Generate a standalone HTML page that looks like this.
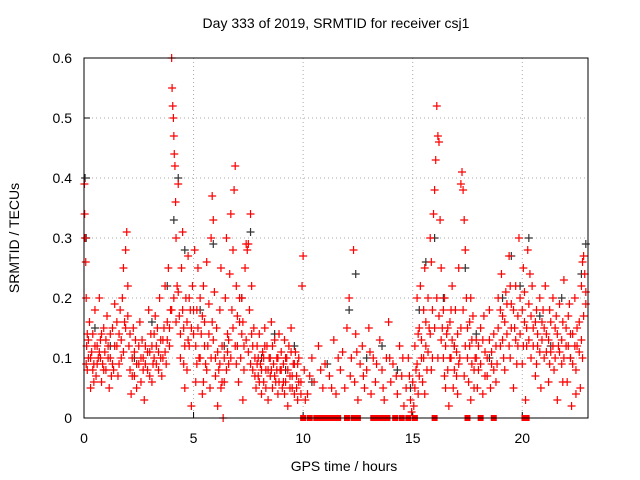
<!DOCTYPE html>
<html><head><meta charset="utf-8">
<style>
html,body{margin:0;padding:0;background:#fff;}
svg{display:block;font-family:"Liberation Sans",sans-serif;}
</style></head>
<body>
<svg id="chart" width="640" height="480" viewBox="0 0 640 480">
<rect width="640" height="480" fill="#fff"/>
<text x="336" y="28" font-size="14" text-anchor="middle" fill="#000">Day 333 of 2019, SRMTID for receiver csj1</text>
<text x="344" y="471" font-size="14" text-anchor="middle" fill="#000">GPS time / hours</text>
<text transform="translate(19,238) rotate(-90)" font-size="14" text-anchor="middle" fill="#000">SRMTID / TECUs</text>
<g id="grid"></g>
<g id="ticks"></g>
<g id="marks"></g>
<rect x="84" y="58" width="504" height="360" fill="none" stroke="#000" stroke-width="1"/>
</svg>
<script>
const xTicks=[0,5,10,15,20];
const yTicks=[0,0.1,0.2,0.3,0.4,0.5,0.6];
const yTickLabels=["0","0.1","0.2","0.3","0.4","0.5","0.6"];
const blackPts=[[0.05,0.4],[0.1,0.3],[0.5,0.15],[1.2,0.12],[2.3,0.1],[3.1,0.16],[3.8,0.22],[4.1,0.33],[4.3,0.4],[4.6,0.28],[5.3,0.18],[5.9,0.29],[6.4,0.12],[7.2,0.2],[7.6,0.31],[8.1,0.1],[8.7,0.14],[9.2,0.08],[9.6,0.12],[10.4,0.06],[11.1,0.09],[12.1,0.18],[12.4,0.24],[12.9,0.1],[13.6,0.12],[14.3,0.08],[14.9,0.05],[15.3,0.18],[15.6,0.26],[16.0,0.3],[16.4,0.2],[16.9,0.12],[17.4,0.25],[17.9,0.14],[18.5,0.1],[19.1,0.2],[19.5,0.27],[19.9,0.22],[20.3,0.3],[20.8,0.17],[21.3,0.12],[21.8,0.2],[22.2,0.1],[22.7,0.24],[22.9,0.29]];
const redPts=[[0.02,0.39],[0.03,0.34],[0.05,0.3],[0.08,0.26],[0.1,0.2],[0.12,0.12],[0.15,0.08],[0.2,0.1],[0.25,0.16],[0.3,0.05],[0.35,0.11],[0.4,0.14],[0.45,0.09],[0.5,0.18],[0.55,0.07],[0.6,0.12],[0.65,0.1],[0.7,0.2],[0.75,0.13],[0.8,0.06],[0.85,0.09],[0.9,0.15],[0.95,0.11],[1.0,0.08],[1.05,0.17],[1.1,0.12],[1.15,0.05],[1.2,0.1],[1.3,0.15],[1.35,0.08],[1.4,0.19],[1.5,0.12],[1.55,0.07],[1.6,0.14],[1.7,0.1],[1.75,0.2],[1.8,0.25],[1.85,0.16],[1.9,0.28],[1.95,0.31],[2.0,0.22],[2.05,0.12],[2.1,0.08],[2.15,0.04],[2.2,0.1],[2.3,0.07],[2.35,0.13],[2.4,0.05],[2.5,0.09],[2.55,0.16],[2.6,0.06],[2.7,0.1],[2.75,0.03],[2.8,0.12],[2.9,0.08],[2.95,0.18],[3.0,0.11],[3.05,0.14],[3.1,0.06],[3.2,0.1],[3.25,0.17],[3.3,0.12],[3.4,0.08],[3.45,0.2],[3.5,0.13],[3.6,0.1],[3.65,0.15],[3.7,0.22],[3.75,0.09],[3.8,0.16],[3.85,0.25],[3.9,0.12],[3.95,0.18],[4.0,0.6],[4.02,0.55],[4.05,0.52],[4.08,0.5],[4.1,0.47],[4.12,0.44],[4.15,0.42],[4.18,0.36],[4.2,0.3],[4.25,0.22],[4.3,0.39],[4.35,0.17],[4.4,0.1],[4.45,0.25],[4.5,0.31],[4.55,0.15],[4.6,0.05],[4.65,0.2],[4.7,0.08],[4.75,0.27],[4.8,0.12],[4.85,0.18],[4.9,0.02],[4.95,0.22],[5.0,0.14],[5.05,0.28],[5.1,0.06],[5.15,0.18],[5.2,0.25],[5.25,0.1],[5.3,0.2],[5.35,0.14],[5.4,0.04],[5.45,0.22],[5.5,0.16],[5.55,0.09],[5.6,0.26],[5.65,0.12],[5.7,0.19],[5.75,0.05],[5.8,0.3],[5.85,0.37],[5.9,0.33],[5.95,0.21],[6.0,0.1],[6.05,0.15],[6.1,0.02],[6.15,0.08],[6.2,0.18],[6.25,0.25],[6.3,0.12],[6.35,0.0],[6.4,0.06],[6.45,0.2],[6.5,0.3],[6.55,0.14],[6.6,0.09],[6.65,0.24],[6.7,0.34],[6.75,0.18],[6.8,0.28],[6.85,0.38],[6.9,0.42],[6.95,0.22],[7.0,0.12],[7.05,0.06],[7.1,0.16],[7.15,0.1],[7.2,0.2],[7.25,0.03],[7.3,0.12],[7.35,0.25],[7.4,0.29],[7.45,0.28],[7.5,0.29],[7.55,0.18],[7.6,0.34],[7.65,0.22],[7.7,0.08],[7.75,0.15],[7.8,0.1],[7.85,0.05],[7.9,0.12],[7.95,0.07],[8.0,0.14],[8.05,0.09],[8.1,0.04],[8.15,0.11],[8.2,0.06],[8.25,0.15],[8.3,0.08],[8.35,0.12],[8.4,0.03],[8.45,0.1],[8.5,0.07],[8.55,0.16],[8.6,0.05],[8.65,0.09],[8.7,0.13],[8.75,0.06],[8.8,0.1],[8.85,0.04],[8.9,0.14],[8.95,0.08],[9.0,0.11],[9.05,0.05],[9.1,0.09],[9.15,0.13],[9.2,0.06],[9.25,0.1],[9.3,0.02],[9.35,0.12],[9.4,0.07],[9.45,0.15],[9.5,0.05],[9.55,0.09],[9.6,0.04],[9.65,0.11],[9.7,0.07],[9.75,0.03],[9.8,0.1],[9.9,0.06],[9.95,0.22],[10.0,0.27],[10.05,0.08],[10.2,0.04],[10.4,0.1],[10.5,0.06],[10.7,0.12],[10.9,0.05],[11.0,0.09],[11.2,0.07],[11.4,0.13],[11.5,0.04],[11.7,0.08],[11.8,0.11],[11.9,0.05],[12.0,0.15],[12.1,0.2],[12.2,0.1],[12.3,0.28],[12.35,0.06],[12.4,0.14],[12.5,0.03],[12.6,0.09],[12.7,0.12],[12.8,0.05],[12.9,0.08],[13.0,0.15],[13.1,0.04],[13.2,0.1],[13.3,0.06],[13.5,0.13],[13.6,0.08],[13.7,0.03],[13.8,0.1],[13.9,0.16],[14.0,0.06],[14.1,0.09],[14.3,0.04],[14.4,0.12],[14.5,0.07],[14.6,0.02],[14.7,0.05],[14.8,0.1],[14.9,0.03],[15.0,0.06],[15.05,0.02],[15.1,0.12],[15.15,0.08],[15.2,0.2],[15.25,0.04],[15.3,0.15],[15.35,0.22],[15.4,0.1],[15.45,0.06],[15.5,0.18],[15.55,0.25],[15.6,0.12],[15.65,0.08],[15.7,0.2],[15.75,0.15],[15.8,0.3],[15.85,0.26],[15.9,0.1],[15.95,0.34],[16.0,0.38],[16.05,0.43],[16.1,0.52],[16.15,0.47],[16.2,0.46],[16.25,0.33],[16.3,0.25],[16.35,0.15],[16.4,0.1],[16.45,0.2],[16.5,0.05],[16.55,0.14],[16.6,0.08],[16.65,0.02],[16.7,0.16],[16.75,0.1],[16.8,0.22],[16.85,0.05],[16.9,0.12],[16.95,0.18],[17.0,0.07],[17.05,0.14],[17.1,0.25],[17.15,0.1],[17.2,0.39],[17.25,0.41],[17.3,0.38],[17.35,0.33],[17.4,0.28],[17.45,0.2],[17.5,0.15],[17.55,0.06],[17.6,0.12],[17.65,0.03],[17.7,0.09],[17.75,0.17],[17.8,0.05],[17.85,0.1],[17.9,0.13],[18.0,0.08],[18.1,0.15],[18.2,0.04],[18.3,0.11],[18.4,0.07],[18.5,0.18],[18.6,0.09],[18.7,0.14],[18.8,0.06],[18.9,0.2],[19.0,0.12],[19.05,0.24],[19.1,0.17],[19.2,0.08],[19.25,0.21],[19.3,0.14],[19.4,0.27],[19.45,0.1],[19.5,0.19],[19.6,0.05],[19.65,0.15],[19.7,0.22],[19.8,0.12],[19.85,0.3],[19.9,0.2],[20.0,0.09],[20.05,0.25],[20.1,0.16],[20.15,0.03],[20.2,0.12],[20.25,0.28],[20.3,0.19],[20.4,0.1],[20.45,0.22],[20.5,0.15],[20.6,0.07],[20.65,0.18],[20.7,0.12],[20.8,0.2],[20.85,0.05],[20.9,0.16],[21.0,0.1],[21.05,0.22],[21.1,0.14],[21.2,0.06],[21.25,0.18],[21.3,0.11],[21.4,0.2],[21.45,0.08],[21.5,0.15],[21.6,0.03],[21.65,0.12],[21.7,0.19],[21.8,0.09],[21.85,0.16],[21.9,0.23],[22.0,0.12],[22.05,0.06],[22.1,0.17],[22.2,0.1],[22.25,0.02],[22.3,0.14],[22.4,0.2],[22.45,0.08],[22.5,0.12],[22.6,0.16],[22.65,0.05],[22.7,0.22],[22.75,0.26],[22.8,0.27],[22.85,0.24],[22.9,0.19]];
const redPtsDense=[[0.1,0.09],[0.2,0.13],[0.3,0.1],[0.4,0.08],[0.5,0.12],[0.6,0.09],[0.7,0.11],[0.8,0.14],[0.9,0.08],[1.0,0.13],[1.1,0.1],[1.2,0.14],[1.3,0.09],[1.4,0.12],[1.5,0.16],[1.6,0.09],[1.7,0.13],[1.8,0.11],[1.9,0.15],[2.0,0.17],[2.1,0.14],[2.2,0.07],[2.3,0.11],[2.4,0.09],[2.5,0.12],[2.6,0.1],[2.7,0.08],[2.8,0.09],[2.9,0.11],[3.0,0.07],[3.1,0.12],[3.2,0.14],[3.3,0.09],[3.4,0.11],[3.5,0.1],[3.6,0.13],[3.7,0.11],[3.8,0.13],[3.9,0.15],[4.0,0.18],[4.1,0.2],[4.2,0.16],[4.3,0.21],[4.4,0.14],[4.5,0.18],[4.6,0.12],[4.7,0.16],[4.8,0.2],[4.9,0.15],[5.0,0.18],[5.1,0.12],[5.2,0.15],[5.3,0.1],[5.4,0.17],[5.5,0.12],[5.6,0.08],[5.7,0.14],[5.8,0.1],[5.9,0.13],[6.0,0.07],[6.1,0.11],[6.2,0.09],[6.3,0.06],[6.4,0.1],[6.5,0.08],[6.6,0.13],[6.7,0.1],[6.8,0.15],[6.9,0.12],[7.0,0.17],[7.1,0.2],[7.2,0.14],[7.3,0.08],[7.4,0.13],[7.5,0.11],[7.6,0.09],[7.7,0.12],[7.8,0.07],[7.9,0.09],[8.0,0.06],[8.1,0.08],[8.2,0.1],[8.3,0.05],[8.4,0.08],[8.5,0.1],[8.6,0.12],[8.7,0.07],[8.8,0.08],[8.9,0.06],[9.0,0.08],[9.1,0.06],[9.2,0.1],[9.3,0.08],[9.4,0.05],[9.5,0.07],[9.6,0.09],[9.7,0.05],[9.8,0.06],[9.9,0.04],[0.15,0.14],[0.45,0.06],[0.75,0.1],[1.25,0.07],[1.65,0.18],[2.25,0.15],[2.65,0.13],[3.15,0.09],[3.35,0.15],[3.55,0.07],[4.55,0.09],[4.75,0.13],[5.15,0.09],[5.45,0.06],[5.85,0.16],[6.25,0.05],[6.55,0.11],[6.95,0.09],[7.25,0.16],[7.65,0.14],[7.95,0.1],[8.25,0.12],[8.55,0.08],[8.85,0.1],[9.15,0.04],[9.45,0.11],[9.75,0.09],[15.1,0.05],[15.2,0.09],[15.3,0.07],[15.4,0.13],[15.5,0.1],[15.6,0.16],[15.7,0.11],[15.8,0.14],[15.9,0.18],[16.0,0.15],[16.1,0.2],[16.2,0.17],[16.3,0.13],[16.4,0.18],[16.5,0.12],[16.6,0.15],[16.7,0.1],[16.8,0.13],[16.9,0.08],[17.0,0.11],[17.1,0.09],[17.2,0.15],[17.3,0.18],[17.4,0.12],[17.5,0.1],[17.6,0.16],[17.7,0.13],[17.8,0.08],[17.9,0.1],[18.0,0.12],[18.1,0.09],[18.2,0.13],[18.3,0.07],[18.4,0.1],[18.5,0.13],[18.6,0.11],[18.7,0.08],[18.8,0.12],[18.9,0.15],[19.0,0.18],[19.1,0.13],[19.2,0.16],[19.3,0.19],[19.4,0.12],[19.5,0.15],[19.6,0.18],[19.7,0.13],[19.8,0.17],[19.9,0.14],[20.0,0.18],[20.1,0.21],[20.2,0.15],[20.3,0.13],[20.4,0.17],[20.5,0.12],[20.6,0.16],[20.7,0.14],[20.8,0.11],[20.9,0.13],[21.0,0.15],[21.1,0.11],[21.2,0.13],[21.3,0.16],[21.4,0.12],[21.5,0.1],[21.6,0.14],[21.7,0.11],[21.8,0.13],[21.9,0.1],[22.0,0.15],[22.1,0.12],[22.2,0.14],[22.3,0.09],[22.4,0.12],[22.5,0.15],[22.6,0.11],[22.7,0.13],[22.8,0.17],[22.9,0.21],[15.25,0.14],[15.55,0.04],[15.85,0.08],[16.15,0.1],[16.45,0.07],[16.75,0.18],[17.05,0.04],[17.35,0.07],[17.65,0.2],[17.95,0.05],[18.25,0.17],[18.55,0.05],[18.85,0.09],[19.15,0.1],[19.45,0.22],[19.75,0.09],[20.05,0.12],[20.35,0.24],[20.65,0.09],[20.95,0.18],[21.25,0.09],[21.55,0.17],[21.85,0.06],[22.15,0.19],[22.45,0.04],[22.75,0.1],[10.1,0.03],[10.3,0.07],[10.8,0.08],[11.3,0.05],[11.6,0.1],[12.15,0.07],[12.45,0.11],[12.75,0.07],[13.05,0.11],[13.35,0.09],[13.65,0.05],[13.95,0.1],[14.25,0.07],[14.55,0.1],[14.85,0.07],[14.95,0.01]];
const zeroT=[10.0,10.3,10.6,10.75,10.9,11.05,11.2,11.35,11.6,12.0,12.3,12.5,13.2,13.4,13.55,13.7,13.85,14.2,14.5,14.8,15.1,16.0,17.5,18.1,18.7,20.1,20.2];

const X0=84,X1=588,Y0=418,Y1=58,XMAX=23,YMAX=0.6;
const sx=t=>X0+(X1-X0)*t/XMAX;
const sy=v=>Y0-(Y0-Y1)*v/YMAX;
const NS="http://www.w3.org/2000/svg";
const grid=document.getElementById('grid'),ticks=document.getElementById('ticks'),marks=document.getElementById('marks');
function mk(tag,attrs,parent){const e=document.createElementNS(NS,tag);for(const k in attrs)e.setAttribute(k,attrs[k]);parent.appendChild(e);return e;}
xTicks.forEach(t=>{
  const x=sx(t);
  if(t>0){const g=mk('line',{x1:x,x2:x,y1:Y1,y2:Y0,stroke:'#aaa','stroke-dasharray':'1,3'},grid);
  
  }
  const l=mk('line',{x1:x,x2:x,y1:Y0,y2:Y0-6,stroke:'#000'},ticks);
  
  
  const tx=mk('text',{x:x,y:443,'font-size':14,'text-anchor':'middle'},ticks);tx.textContent=String(t);
  
  
});
yTicks.forEach((v,i)=>{
  const y=sy(v);
  if(v>0&&v<YMAX){const g=mk('line',{x1:X0,x2:X1,y1:y,y2:y,stroke:'#aaa','stroke-dasharray':'1,3'},grid);
  
  }
  const l=mk('line',{x1:X0,x2:X0+6,y1:y,y2:y,stroke:'#000'},ticks);
  
  
  const tx=mk('text',{x:72,y:y+5,'font-size':14,'text-anchor':'end'},ticks);tx.textContent=yTickLabels[i];
  
  
});
function plus(t,v,color,name){
  const x=sx(t),y=sy(v);
  const p=mk('path',{d:`M${x-4},${y}h8M${x},${y-4}v8`,stroke:color,'stroke-width':1.2,fill:'none'},marks);
  
  
}
blackPts.forEach(p=>plus(p[0],p[1],'#333','black-point'));
redPts.forEach(p=>plus(p[0],p[1],'#ff0000','red-point'));
redPtsDense.forEach(p=>plus(p[0],p[1],'#ff0000','red-point'));
zeroT.forEach(t=>{
  const r=mk('rect',{x:sx(t)-3,y:Y0-3,width:6,height:6,fill:'#ff0000'},marks);
  
  
});
</script>
</body></html>
